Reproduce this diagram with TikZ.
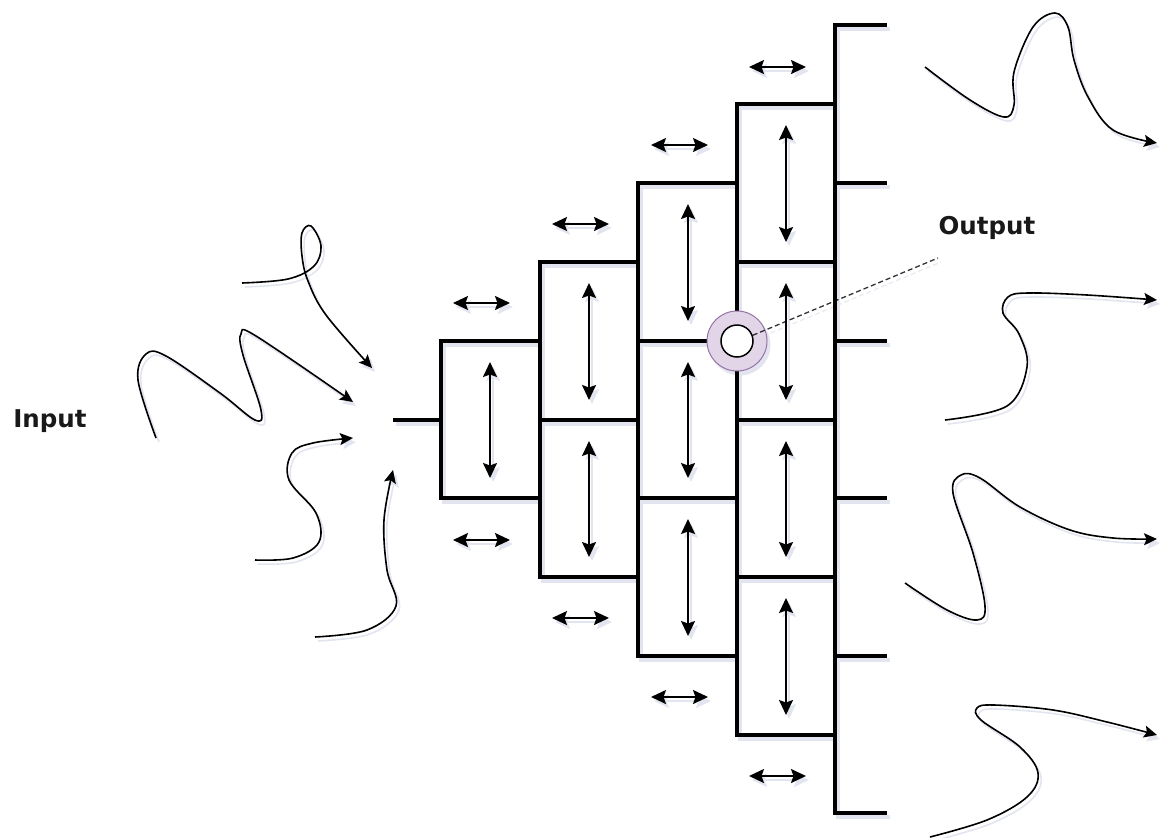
\documentclass[tikz,border=0pt]{standalone}
\usepackage{fontspec}
\newfontfamily\lblfont{DejaVu Sans}
\usetikzlibrary{arrows.meta}
\definecolor{ringfill}{HTML}{E1D5E7}
\definecolor{ringdraw}{HTML}{9673A6}
\definecolor{shade}{HTML}{E2E5EF}
\colorlet{ink}{black}
\colorlet{rfill}{ringfill}
\colorlet{rdraw}{ringdraw}
\colorlet{hfill}{white}
\tikzset{
  frame/.style={draw=ink, line width=3.4pt, line cap=rect, line join=miter},
  dbl/.style={draw=ink, fill=ink, line width=1.8pt, {Stealth[length=15pt,width=14pt,inset=2.5pt]}-{Stealth[length=15pt,width=14pt,inset=2.5pt]}},
  wave/.style={draw=ink, fill=none, line width=1.6pt, -{Stealth[length=13pt,width=12pt,inset=2.5pt,fill=ink]}},
  lbl/.style={font=\lblfont\bfseries\fontsize{24.5}{28}\selectfont, text=black!90, inner sep=0pt}
}
\newcommand\pyramidall[1]{%
% column 1
\draw[frame] (395,420) -- (441,420);
\draw[frame] (441,341) rectangle (540,498);
% column 2
\draw[frame] (540,262) rectangle (638,577);
\draw[frame] (540,420) -- (638,420);
% column 3
\draw[frame] (638,183) rectangle (737,656);
\foreach \y in {341,498} \draw[frame] (638,\y) -- (737,\y);
% column 4
\draw[frame] (737,104) rectangle (835,735);
\foreach \y in {262,420,577} \draw[frame] (737,\y) -- (835,\y);
% bracket
\draw[frame] (885,25) -- (835,25) -- (835,813) -- (885,813);
\foreach \y in {183,341,498,656} \draw[frame] (835,\y) -- (885,\y);
% vertical arrows
\foreach \x/\a/\b in {490/341/498,
  589/262/420, 589/420/577,
  688/183/341, 688/341/498, 688/498/656,
  786/104/262, 786/262/420, 786/420/577, 786/577/735}
  \draw[dbl] (\x,\a+21) -- (\x,\b-20);
% horizontal arrows
\foreach \x/\a/\b in {490/303/540, 589/224/618, 688/145/697, 786/67/776}{
  \draw[dbl] (\x-37,\a) -- (\x+20,\a);
  \draw[dbl] (\x-37,\b) -- (\x+20,\b);
}
% output marker
\node[circle, minimum size=60pt, inner sep=0pt, fill=rfill, draw=rdraw, line width=1pt] (ring#1) at (737,341) {};
\node[circle, minimum size=32pt, inner sep=0pt, fill=hfill, draw=ink, line width=1.5pt] (hole#1) at (737,341) {};
\coordinate (outtip#1) at (938,258);
\draw[line width=1.3pt, dash pattern=on 5pt off 3pt, draw=ink, opacity=0.8] (hole#1.20) -- (outtip#1);
% input waves
\draw[wave] plot[smooth, tension=0.6] coordinates {(242,283) (288,279) (314,266) (321,246) (311,226) (302,233) (302,256) (308,281) (326,315) (372,368)};
\draw[wave] plot[smooth, tension=0.6] coordinates {(156,438) (138,380) (146,354) (166,356) (220,393) (255,420) (261,410) (243,355) (241,334) (256,336) (353,402)};
\draw[wave] plot[smooth, tension=0.6] coordinates {(255,560) (293,558) (319,542) (316,513) (289,480) (292,453) (313,443) (353,438)};
\draw[wave] plot[smooth, tension=0.6] coordinates {(315,637) (367,630) (396,606) (387,570) (384,520) (393,470)};
% output waves
\draw[wave] plot[smooth, tension=0.6] coordinates {(925,67) (970,100) (1004,117) (1014,105) (1014,72) (1033,27) (1055,13) (1068,27) (1074,60) (1088,97) (1113,130) (1157,143)};
\draw[wave] plot[smooth, tension=0.6] coordinates {(945,420) (1007,406) (1027,367) (1019,334) (1003,313) (1008,297) (1028,293) (1087,295) (1157,300)};
\draw[wave] plot[smooth, tension=0.6] coordinates {(905,583) (947,610) (977,620) (985,606) (973,553) (953,493) (961,475) (980,478) (1020,507) (1070,530) (1113,538) (1157,539)};
\draw[wave] plot[smooth, tension=0.6] coordinates {(930,837) (987,820) (1027,797) (1038,773) (1020,747) (981,720) (977,708) (994,705) (1053,710) (1107,722) (1157,735)};
}
\begin{document}
\begin{tikzpicture}[x=1pt,y=-1pt]
\useasboundingbox (0,0) rectangle (1162,838);
\begin{scope}[shift={(3,4)}]
\colorlet{ink}{shade}\colorlet{rfill}{shade}\colorlet{rdraw}{shade}\colorlet{hfill}{shade}
\pyramidall{s}
\end{scope}
\pyramidall{}
\node[lbl] (out) at (987,228) {Output};
\node[lbl] (in) at (50,421) {Input};
\end{tikzpicture}
\end{document}
